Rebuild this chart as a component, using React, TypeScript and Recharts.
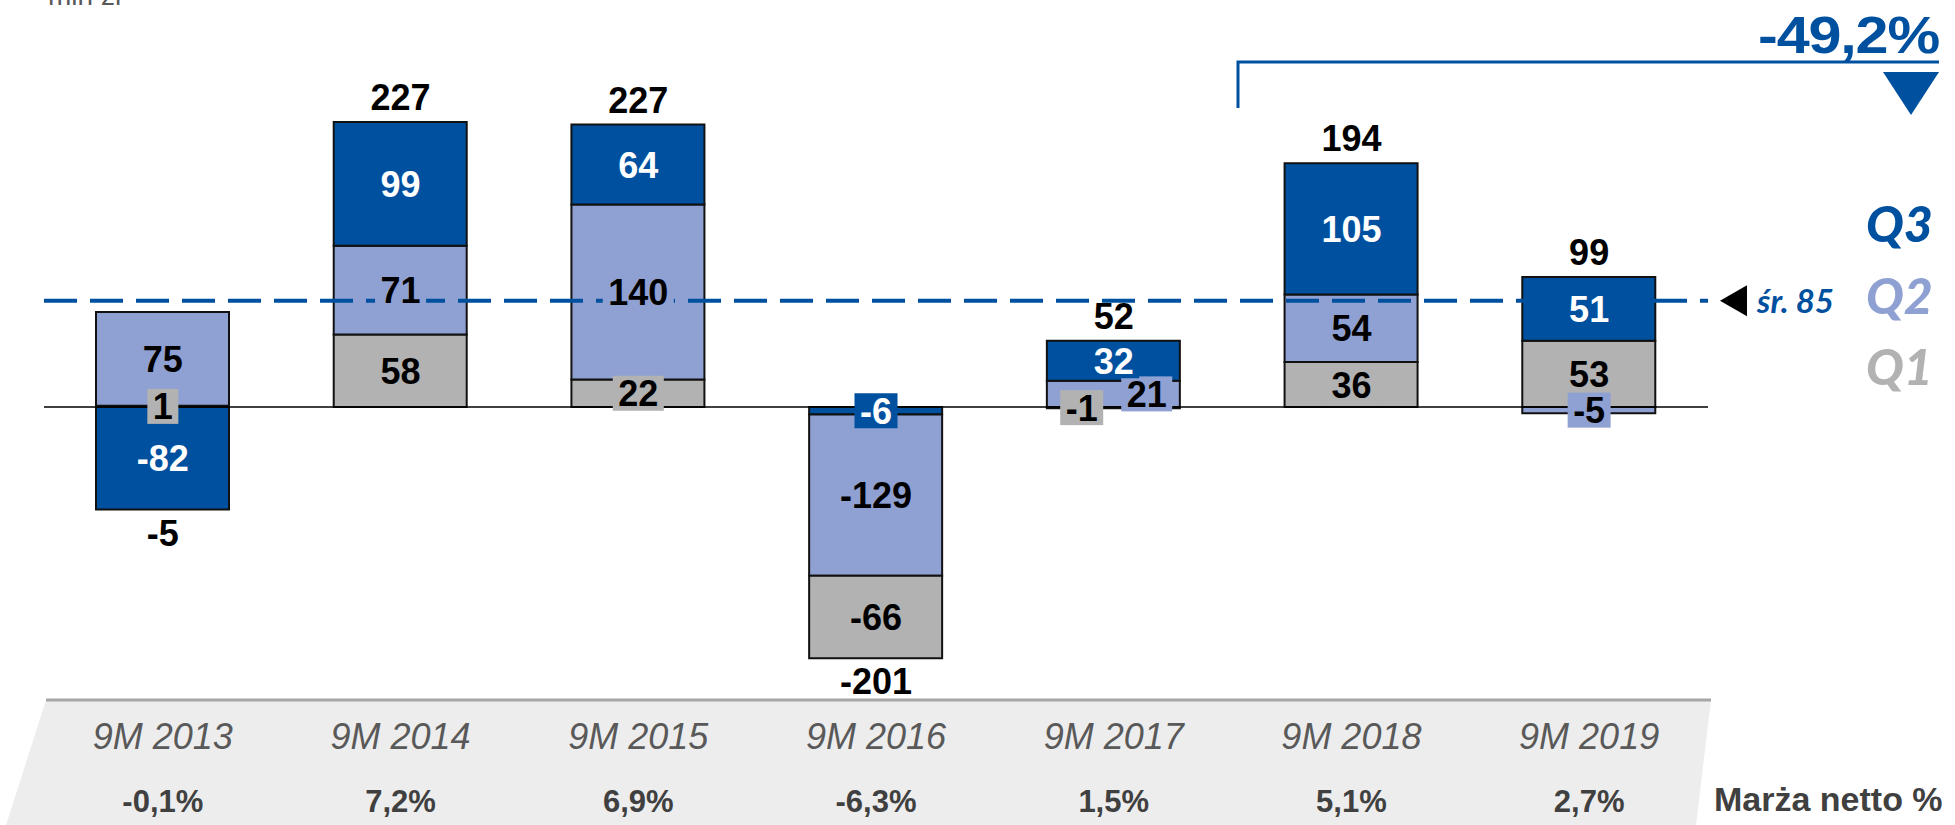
import React from 'react';
import { ComposedChart, Bar, Line, XAxis, YAxis, ReferenceLine, LabelList } from 'recharts';

// ---------- data ----------
const categories = ['9M 2013', '9M 2014', '9M 2015', '9M 2016', '9M 2017', '9M 2018', '9M 2019'];
const q1Values = [1, 58, 22, -66, -1, 36, 53];
const q2Values = [75, 71, 140, -129, 21, 54, -5];
const q3Values = [-82, 99, 64, -6, 32, 105, 51];
const totals = [-5, 227, 227, -201, 52, 194, 99];
const netMargins = ['-0,1%', '7,2%', '6,9%', '-6,3%', '1,5%', '5,1%', '2,7%'];
const averageValue = 85;
const averageLabel = 'śr. 85';
const changeLabel = '-49,2%';
const marginTitle = 'Marża netto %';
const unitLabel = 'mln zł';
const legendItems = ['Q3', 'Q2', 'Q1'];

// ---------- style ----------
const C_Q3 = '#0050A0';
const C_Q2 = '#8FA0D2';
const C_Q1 = '#B2B2B2';
const ARIAL = '"Liberation Sans", Arial, sans-serif';
const LATO = 'Lato, "Open Sans", sans-serif';
const LABEL_FS = 36;
// small label nudges to avoid overlap (series-index -> px)
const LABEL_NUDGE: Record<string, number> = { 'q1-4': -32, 'q2-4': 33 };

// build chart rows (sign stacking: positives Q1->Q3 upward, negatives Q3->Q1 downward)
const data = categories.map((cat, i) => {
  const vals: Record<string, number> = { q1: q1Values[i], q2: q2Values[i], q3: q3Values[i] };
  const row: any = { cat };
  let pos = 0;
  ['q1', 'q2', 'q3'].forEach((k) => {
    const v = vals[k];
    row[k + 'p'] = v > 0 ? v : null;
    if (v > 0) {
      row['m' + k] = pos + v / 2;
      pos += v;
    }
  });
  let neg = 0;
  ['q3', 'q2', 'q1'].forEach((k) => {
    const v = vals[k];
    row[k + 'n'] = v < 0 ? v : null;
    if (v < 0) {
      row['m' + k] = neg + v / 2;
      neg += v;
    }
  });
  row.anchor = totals[i] >= 0 ? pos : neg;
  return row;
});

const textWidth = (s: string, fs: number) => {
  let w = 0;
  for (const ch of s) w += ch === '-' ? 0.333 : ch === ',' ? 0.278 : 0.556;
  return w * fs;
};

const makeSegLabel = (key: string, values: number[], fill: string, color: string) => (props: any) => {
  const { x, y, index } = props;
  const v = values[index];
  if (v == null || v === 0 || x == null || y == null || isNaN(y)) return null;
  const cx = x + (LABEL_NUDGE[`${key}-${index}`] ?? 0);
  const text = String(v);
  const w = textWidth(text, LABEL_FS) + 11;
  const h = 35;
  return (
    <g key={`${key}-${index}`}>
      <rect x={cx - w / 2} y={y - h / 2} width={w} height={h} fill={fill} />
      <text
        x={cx}
        y={y + 13}
        textAnchor="middle"
        fontFamily={ARIAL}
        fontWeight="bold"
        fontSize={LABEL_FS}
        fill={color}
      >
        {text}
      </text>
    </g>
  );
};

const TotalLabel = (props: any) => {
  const { x, y, index } = props;
  if (x == null || y == null) return null;
  const t = totals[index];
  const cy = t >= 0 ? y - 25 : y + 23;
  return (
    <text
      key={`tot-${index}`}
      x={x}
      y={cy + 13}
      textAnchor="middle"
      fontFamily={ARIAL}
      fontWeight="bold"
      fontSize={LABEL_FS}
      fill="#000"
    >
      {t}
    </text>
  );
};

const CategoryTick = (props: any) => {
  const { x, payload } = props;
  const i = payload?.index ?? props.index ?? 0;
  return (
    <g>
      <text
        x={x}
        y={749}
        textAnchor="middle"
        fontFamily={ARIAL}
        fontStyle="italic"
        fontSize={36}
        fill="#595959"
      >
        {payload.value}
      </text>
      <text
        x={x}
        y={812}
        textAnchor="middle"
        fontFamily={ARIAL}
        fontWeight="bold"
        fontSize={31}
        fill="#404040"
      >
        {netMargins[i]}
      </text>
    </g>
  );
};

const AvgLabel = (props: any) => {
  const vb = props.viewBox || {};
  const right = (vb.x ?? 0) + (vb.width ?? 0);
  const cy = vb.y ?? 0;
  return (
    <g>
      <polygon
        points={`${right + 12},${cy} ${right + 39},${cy - 15.5} ${right + 39},${cy + 15.5}`}
        fill="#000"
      />
      <text
        x={right + 49}
        y={cy + 12}
        fontFamily={LATO}
        fontWeight={700}
        fontStyle="italic"
        fontSize={33}
        fill={C_Q3}
      >
        {averageLabel}
      </text>
    </g>
  );
};

export default function App() {
  return (
    <div style={{ position: 'absolute', left: 0, top: 0, width: 1955, height: 825, background: '#fff' }}>
      <svg
        width={1955}
        height={825}
        style={{ position: 'absolute', left: 0, top: 0 }}
      >
        <polygon points="46,700 1711,700 1696,825 6,825" fill="#EDEDED" />
        <line x1={46} y1={700} x2={1711} y2={700} stroke="#A6A6A6" strokeWidth={3} />
        <text x={48} y={5} fontFamily={ARIAL} fontSize={28} fill="#595959">
          {unitLabel}
        </text>
        <text
          transform="translate(1939,53) scale(1.14,1)"
          x={0}
          y={0}
          textAnchor="end"
          fontFamily={ARIAL}
          fontWeight="bold"
          fontSize={52}
          letterSpacing={-1}
          fill={C_Q3}
        >
          {changeLabel}
        </text>
        <polyline points="1238,108 1238,62 1939,62" fill="none" stroke={C_Q3} strokeWidth={3} />
        <polygon points="1883,72 1939,72 1911,115" fill={C_Q3} />
        {legendItems.map((q, k) => (
          <text
            key={q}
            x={1866}
            y={242 + k * 71.5}
            fontFamily={LATO}
            fontWeight={900}
            fontStyle="italic"
            fontSize={50}
            fill={[C_Q3, C_Q2, C_Q1][k]}
          >
            {q}
          </text>
        ))}
        <text x={1714} y={811} fontFamily={ARIAL} fontWeight="bold" fontSize={34} fill="#404040">
          {marginTitle}
        </text>
      </svg>
      <div style={{ position: 'absolute', left: 0, top: 0 }}>
        <ComposedChart
          width={1955}
          height={825}
          data={data}
          stackOffset="sign"
          margin={{ top: 32, right: 247, bottom: 0, left: 44 }}
        >
          <XAxis
            dataKey="cat"
            axisLine={false}
            tickLine={false}
            height={143}
            interval={0}
            tick={(p: any) => <CategoryTick {...p} />}
          />
          <YAxis hide type="number" domain={[-220, 300]} allowDataOverflow />
          <ReferenceLine y={0} stroke="#000" strokeWidth={1.5} />
          <Bar dataKey="q1p" stackId="s" fill={C_Q1} stroke="#111" strokeWidth={2} barSize={133} isAnimationActive={false} />
          <Bar dataKey="q2p" stackId="s" fill={C_Q2} stroke="#111" strokeWidth={2} barSize={133} isAnimationActive={false} />
          <Bar dataKey="q3p" stackId="s" fill={C_Q3} stroke="#111" strokeWidth={2} barSize={133} isAnimationActive={false} />
          <Bar dataKey="q3n" stackId="s" fill={C_Q3} stroke="#111" strokeWidth={2} barSize={133} isAnimationActive={false} />
          <Bar dataKey="q2n" stackId="s" fill={C_Q2} stroke="#111" strokeWidth={2} barSize={133} isAnimationActive={false} />
          <Bar dataKey="q1n" stackId="s" fill={C_Q1} stroke="#111" strokeWidth={2} barSize={133} isAnimationActive={false} />
          <ReferenceLine
            y={averageValue}
            stroke={C_Q3}
            strokeWidth={4}
            strokeDasharray="33 13"
            label={<AvgLabel />}
          />
          <Line dataKey="mq1" stroke="none" dot={false} activeDot={false} legendType="none" isAnimationActive={false}>
            <LabelList dataKey="mq1" content={makeSegLabel('q1', q1Values, C_Q1, '#000')} />
          </Line>
          <Line dataKey="mq2" stroke="none" dot={false} activeDot={false} legendType="none" isAnimationActive={false}>
            <LabelList dataKey="mq2" content={makeSegLabel('q2', q2Values, C_Q2, '#000')} />
          </Line>
          <Line dataKey="mq3" stroke="none" dot={false} activeDot={false} legendType="none" isAnimationActive={false}>
            <LabelList dataKey="mq3" content={makeSegLabel('q3', q3Values, C_Q3, '#fff')} />
          </Line>
          <Line dataKey="anchor" stroke="none" dot={false} activeDot={false} legendType="none" isAnimationActive={false}>
            <LabelList dataKey="anchor" content={(p: any) => <TotalLabel {...p} />} />
          </Line>
        </ComposedChart>
      </div>
    </div>
  );
}
